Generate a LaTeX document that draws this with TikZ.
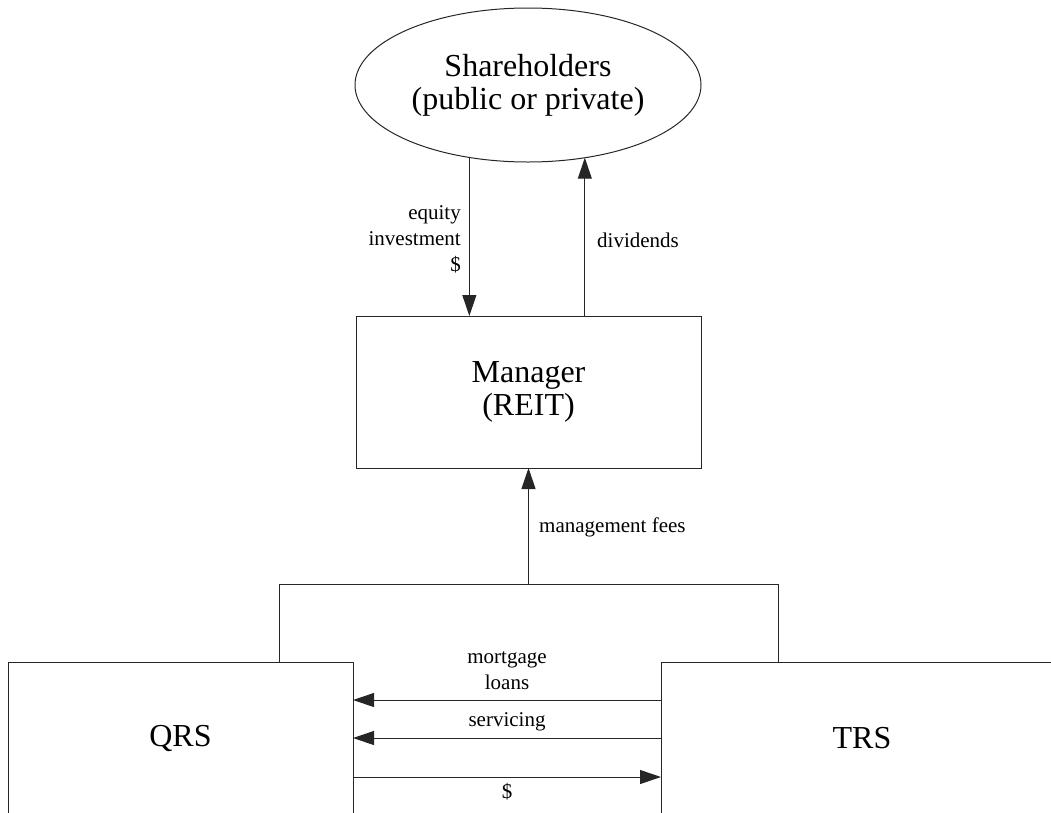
\documentclass[tikz,border=0pt]{standalone}
\usepackage{fontspec}
\setmainfont{Liberation Serif}
\usetikzlibrary{arrows.meta,shapes.geometric,calc}

\tikzset{
  bigtext/.style={font=\fontsize{32}{33}\selectfont},
  smalltext/.style={font=\fontsize{21}{26}\selectfont},
  entity/.style={draw=black!85, line width=1pt, inner sep=0pt, outer sep=0pt, bigtext, align=center},
  flow/.style={draw=black!85, line width=1pt, -{Triangle[length=21pt,width=14pt]}},
  link/.style={draw=black!85, line width=1pt},
  flowlabel/.style={smalltext, inner sep=0pt, align=center}
}

\begin{document}
\begin{tikzpicture}[x=1pt,y=-1pt]
  \useasboundingbox (0,0) rectangle (1051,812);
  \clip (0,0) rectangle (1051,812);

  % entities
  \node[entity, ellipse, minimum width=346pt, minimum height=154pt] (sh) at (528,85)
    {Shareholders\\(public or private)};
  \node[entity, rectangle, minimum width=345pt, minimum height=152pt] (mgr) at (528.5,392)
    {Manager\\(REIT)};
  \node[entity, rectangle, minimum width=345pt, minimum height=152pt] (qrs) at (180.5,738)
    {QRS};
  \node[entity, rectangle, minimum width=402pt, minimum height=152pt] (trs) at (862,738)
    {TRS};

  % bracket joining QRS and TRS
  \coordinate (jl) at (279,584);
  \coordinate (jr) at (778,584);
  \draw[link] (jl |- qrs.north) -- (jl) -- (jr) -- (jr |- trs.north);

  % shareholders <-> manager
  \coordinate (eq) at (sh.231.9);
  \coordinate (dv) at (sh.308.7);
  \draw[flow] (eq) -- (eq |- mgr.north);
  \draw[flow] (dv |- mgr.north) -- (dv);
  \node[flowlabel, align=right, anchor=east] (eqlbl) at (461,239)
    {equity\\investment\\\$};
  \node[flowlabel, anchor=west] (dvlbl) at (597,240) {dividends};

  % management fees
  \draw[flow] (mgr.south |- jl) -- (mgr.south);
  \node[flowlabel, anchor=west] (mflbl) at (539,527) {management fees};

  % flows between TRS and QRS
  \draw[flow] ($(trs.west)+(0,-38)$) -- ($(qrs.east)+(0,-38)$);
  \draw[flow] (trs.west) -- (qrs.east);
  \draw[flow] ($(qrs.east)+(0,39)$) -- ($(trs.west)+(0,39)$);
  \node[flowlabel] (mllbl) at (507,671) {mortgage\\loans};
  \node[flowlabel] (svlbl) at (507,722) {servicing};
  \node[flowlabel] (dllbl) at (507,792) {\$};
\end{tikzpicture}
\end{document}
